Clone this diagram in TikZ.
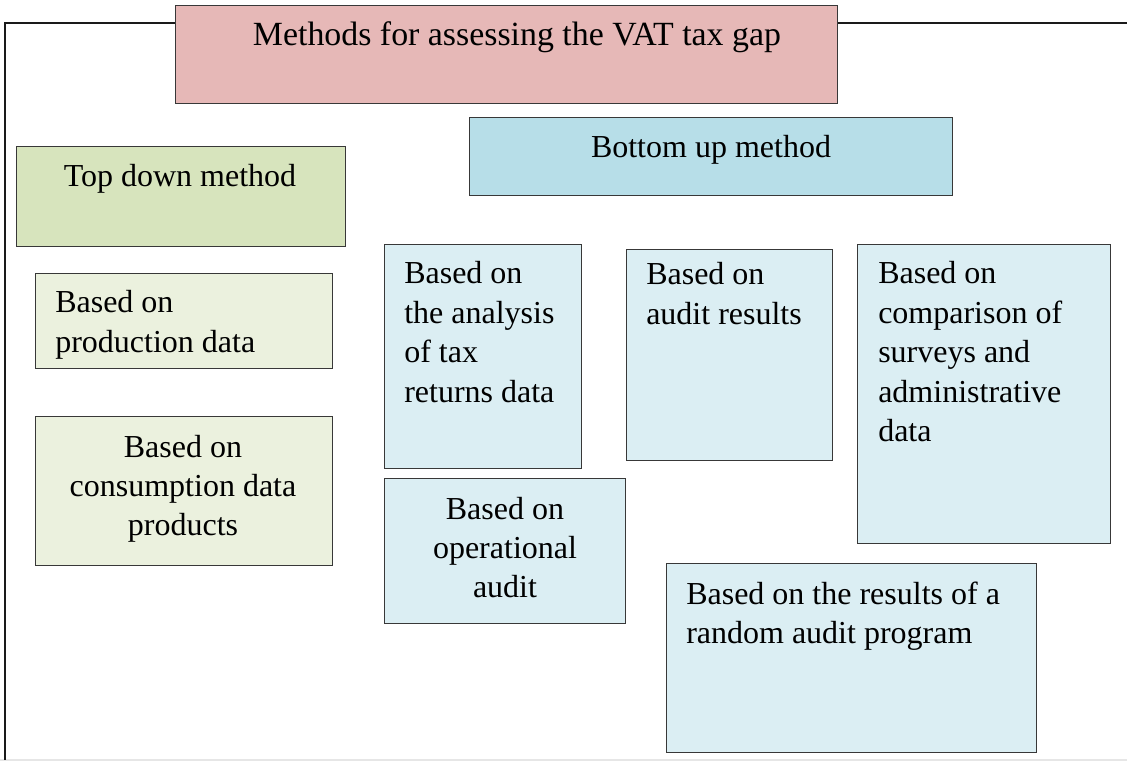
\documentclass[tikz,border=0pt]{standalone}
\usepackage{fontspec}
\setmainfont{Liberation Serif}
\definecolor{framecol}{HTML}{1A1A1A}
\definecolor{edgecol}{HTML}{383838}
\definecolor{titlefill}{HTML}{E6B8B7}
\definecolor{topfill}{HTML}{D7E4BD}
\definecolor{topsub}{HTML}{EBF1DE}
\definecolor{botfill}{HTML}{B7DEE8}
\definecolor{botsub}{HTML}{DBEEF3}
\definecolor{footgray}{HTML}{E6E6E6}
\newcommand\linesL[1]{\begin{tabular}[t]{@{}l@{}}#1\end{tabular}}
\newcommand\linesC[1]{\begin{tabular}[t]{@{}c@{}}#1\end{tabular}}
\tikzset{
  panel/.style={draw=edgecol, line width=1pt, rectangle, inner sep=0pt, anchor=north west},
  label/.style={inner sep=0pt, font=\fontsize{24}{29.6}\selectfont},
}
\begin{document}
\begin{tikzpicture}[x=0.75pt, y=-0.75pt]
\useasboundingbox (0,0) rectangle (1127,762);
% outer frame
\draw[footgray, line width=1pt] (0,760) -- (1127,760);
\draw[framecol, line width=0.8pt] (175,23) -- (5,23) -- (5,760);
\draw[framecol, line width=0.8pt] (837,23) -- (1127,23);

% headings
\node[panel, fill=titlefill, minimum width=496.5pt, minimum height=73.5pt] (title) at (175,5) {};
\node[label, font=\fontsize{25.4}{30}\selectfont, anchor=base] (titletxt) at (517,46) {Methods for assessing the VAT tax gap};

\node[panel, fill=topfill, minimum width=246.75pt, minimum height=75pt] (topdown) at (16,146) {};
\node[label, anchor=base] (topdowntxt) at (180,187) {Top down method};

\node[panel, fill=botfill, minimum width=362.25pt, minimum height=58.5pt] (bottomup) at (469,117) {};
\node[label, anchor=base] (bottomuptxt) at (711,158) {Bottom up method};

% top down methods
\node[panel, fill=topsub, minimum width=222.75pt, minimum height=71.25pt] (prod) at (35,273) {};
\node[label, anchor=base west] (prodtxt) at (55,313) {\linesL{Based on\\production data}};

\node[panel, fill=topsub, minimum width=222.75pt, minimum height=111.75pt] (cons) at (35,416) {};
\node[label, anchor=base] (constxt) at (183,457) {\linesC{Based on\\consumption data\\products}};

% bottom up methods
\node[panel, fill=botsub, minimum width=147.75pt, minimum height=168pt] (returns) at (384,244) {};
\node[label, anchor=base west] (returnstxt) at (404,284) {\linesL{Based on\\the analysis\\of tax\\returns data}};

\node[panel, fill=botsub, minimum width=154.5pt, minimum height=158.25pt] (audit) at (626,249) {};
\node[label, anchor=base west] (audittxt) at (646,285) {\linesL{Based on\\audit results}};

\node[panel, fill=botsub, minimum width=189.75pt, minimum height=224.25pt] (survey) at (857,244) {};
\node[label, anchor=base west] (surveytxt) at (878,284) {\linesL{Based on\\comparison of\\surveys and\\administrative\\data}};

\node[panel, fill=botsub, minimum width=180.75pt, minimum height=108.75pt] (oper) at (384,478) {};
\node[label, anchor=base] (opertxt) at (505,519) {\linesC{Based on\\operational\\audit}};

\node[panel, fill=botsub, minimum width=277.5pt, minimum height=141.75pt] (random) at (666,563) {};
\node[label, anchor=base west] (randomtxt) at (686,604) {\linesL{Based on the results of a\\random audit program}};
\end{tikzpicture}
\end{document}
